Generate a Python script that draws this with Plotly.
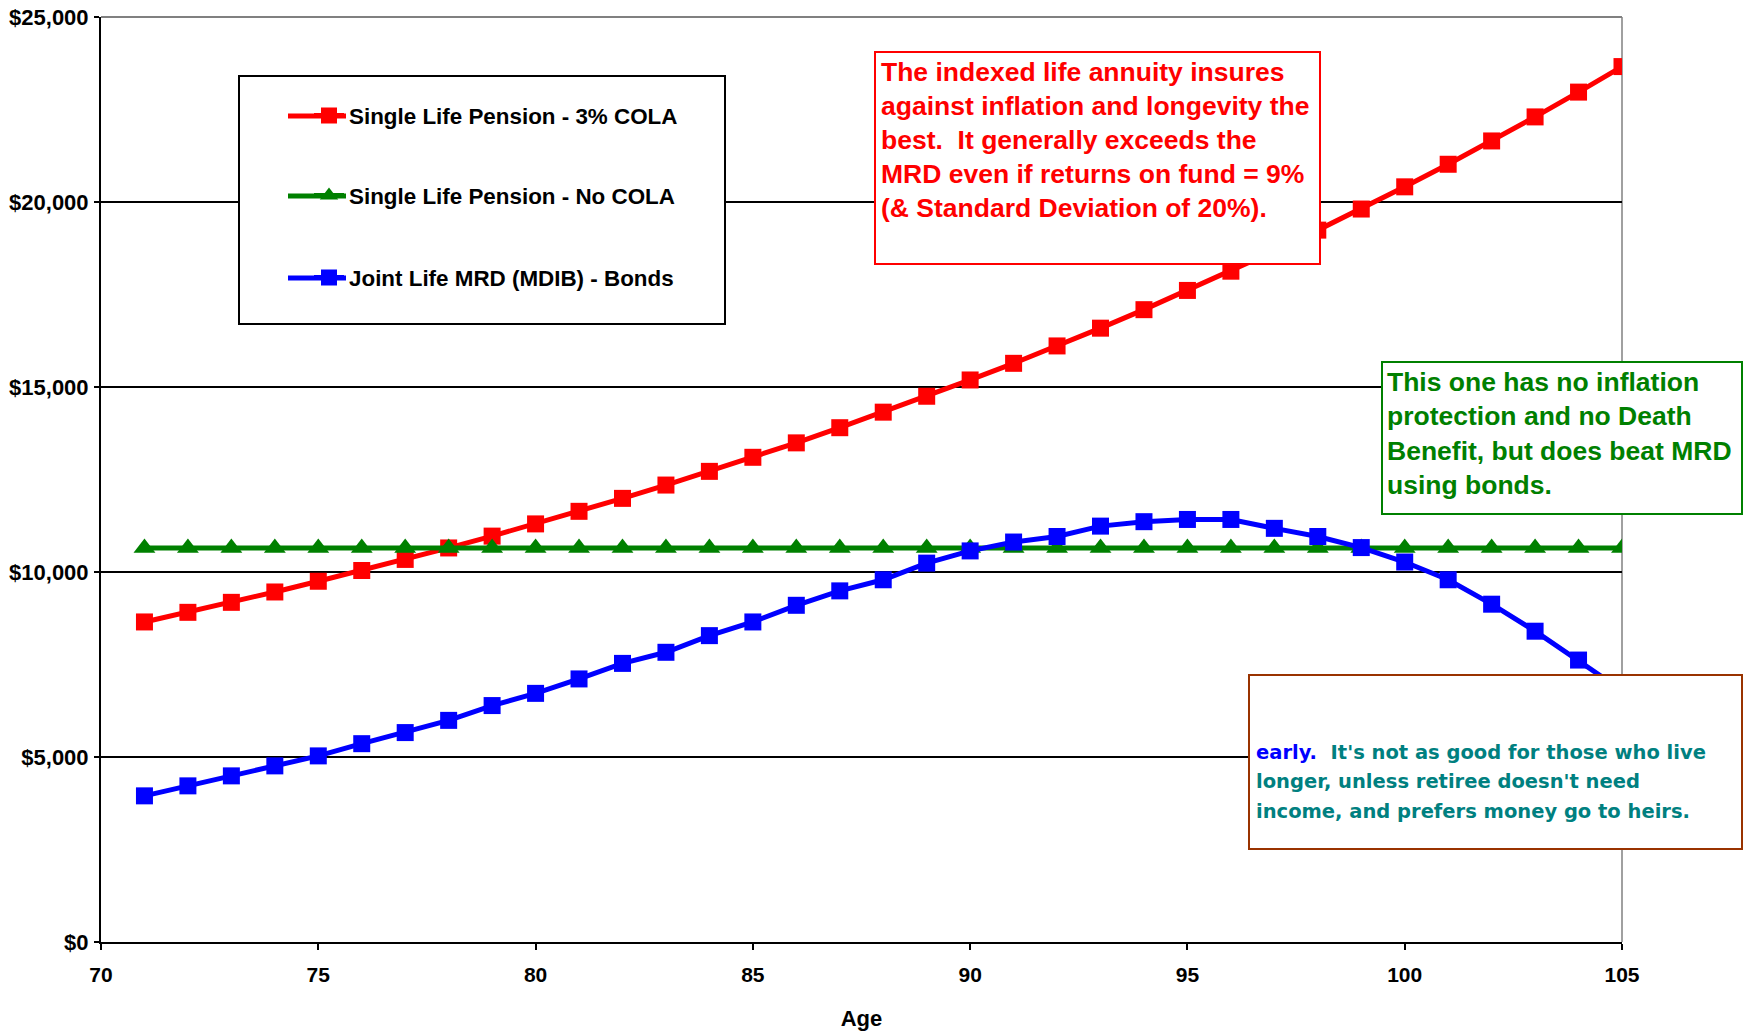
import plotly.graph_objects as go

# ---------------- data ----------------
ages = [71, 72, 73, 74, 75, 76, 77, 78, 79, 80, 81, 82, 83, 84, 85, 86, 87, 88,
        89, 90, 91, 92, 93, 94, 95, 96, 97, 98, 99, 100, 101, 102, 103, 104, 105]

cola_3pct = [8650, 8910, 9180, 9460, 9750, 10040, 10340, 10650, 10970, 11300,
             11640, 11990, 12350, 12720, 13100, 13490, 13900, 14320, 14750, 15190,
             15640, 16110, 16590, 17090, 17610, 18130, 18680, 19240, 19810, 20410,
             21020, 21650, 22300, 22970, 23660]

no_cola = [10650, 10650, 10650, 10650, 10650, 10650, 10650, 10650, 10650, 10650,
           10650, 10650, 10650, 10650, 10650, 10650, 10650, 10650, 10650, 10650,
           10650, 10650, 10650, 10650, 10650, 10650, 10650, 10650, 10650, 10650,
           10650, 10650, 10650, 10650, 10650]

joint_mrd = [3950, 4220, 4490, 4760, 5030, 5360, 5660, 5990, 6390, 6720,
             7110, 7530, 7830, 8280, 8650, 9100, 9490, 9790, 10240, 10570,
             10810, 10960, 11240, 11360, 11420, 11420, 11180, 10960, 10660, 10270,
             9790, 9130, 8400, 7620, 6800]

series_names = ["Single Life Pension - 3% COLA",
                "Single Life Pension - No COLA",
                "Joint Life MRD (MDIB) - Bonds"]

x_ticks = [70, 75, 80, 85, 90, 95, 100, 105]
y_ticks = [0, 5000, 10000, 15000, 20000, 25000]

red_note = ["The indexed life annuity insures",
            "against inflation and longevity the",
            "best.\u00a0 It generally exceeds the",
            "MRD even if returns on fund = 9%",
            "(& Standard Deviation of 20%)."]
green_note = ["This one has no inflation",
              "protection and no Death",
              "Benefit, but does beat MRD",
              "using bonds."]
brown_note = ["<span style='color:#0000FF'>early.</span>\u00a0 It's not as good for those who live",
              "longer, unless retiree doesn't need",
              "income, and prefers money go to heirs."]

# ---------------- layout geometry ----------------
OFF = 0                      # page body margin (removed by post_script)
W, H = 1748, 1034
L, R, T, B = 101, 126, 17, 92
PW, PH = W - L - R, H - T - B


def fx(px):
    """page pixel x -> paper x"""
    return (px - OFF - L) / PW


def fy(py):
    """page pixel y -> paper y"""
    return (H - B - (py - OFF)) / PH


FONT = "Liberation Sans, Arial, sans-serif"

fig = go.Figure()

styles = [
    dict(color="#FF0000", symbol="square", size=17),
    dict(color="#008000", symbol="triangle-up", size=19),
    dict(color="#0000FF", symbol="square", size=17),
]
values = [cola_3pct, no_cola, joint_mrd]
legends = ["legend", "legend2", "legend3"]

for name, vals, st, lg in zip(series_names, values, styles, legends):
    fig.add_trace(go.Scatter(
        x=ages, y=vals, name=name, mode="lines+markers",
        line=dict(color=st["color"], width=5),
        marker=dict(color=st["color"], symbol=st["symbol"], size=st["size"]),
        legend=lg,
    ))

legend_common = dict(
    font=dict(family=FONT, size=22.4, color="black", weight="bold"),
    bgcolor="rgba(0,0,0,0)", borderwidth=0,
    xanchor="left", yanchor="middle", itemsizing="trace",
)
legend_y = [116, 196, 278]
legend_x = 309
fig.update_layout(
    legend=dict(x=fx(legend_x), y=fy(legend_y[0]), **legend_common),
    legend2=dict(x=fx(legend_x), y=fy(legend_y[1]), **legend_common),
    legend3=dict(x=fx(legend_x), y=fy(legend_y[2]), **legend_common),
)

shapes = []
# plot area border (top, right) in gray
shapes.append(dict(type="line", xref="paper", yref="paper", x0=0, x1=1, y0=1, y1=1,
                   line=dict(color="#808080", width=2), layer="above"))
shapes.append(dict(type="line", xref="paper", yref="paper", x0=1, x1=1, y0=0, y1=1,
                   line=dict(color="#808080", width=1.5), layer="below"))
# legend box
shapes.append(dict(type="rect", xref="paper", yref="paper",
                   x0=fx(239), x1=fx(725), y0=fy(324), y1=fy(76),
                   fillcolor="white", line=dict(color="black", width=2), layer="above"))
# longer legend line samples (behind the legend symbols)
for st, ly in zip(styles, legend_y):
    shapes.append(dict(type="line", xref="paper", yref="paper",
                       x0=fx(288), x1=fx(346), y0=fy(ly), y1=fy(ly),
                       line=dict(color=st["color"], width=5), layer="above"))
# red note box
shapes.append(dict(type="rect", xref="paper", yref="paper",
                   x0=fx(875), x1=fx(1320), y0=fy(264), y1=fy(52),
                   fillcolor="white", line=dict(color="#FF0000", width=2), layer="above"))
# green note box
shapes.append(dict(type="rect", xref="paper", yref="paper",
                   x0=fx(1382), x1=fx(1742), y0=fy(514), y1=fy(362),
                   fillcolor="white", line=dict(color="#008000", width=2), layer="above"))
# brown note box
shapes.append(dict(type="rect", xref="paper", yref="paper",
                   x0=fx(1249), x1=fx(1742), y0=fy(849), y1=fy(675),
                   fillcolor="white", line=dict(color="#993300", width=2), layer="above"))

annotations = []
for i, line in enumerate(red_note):
    annotations.append(dict(xref="paper", yref="paper", x=fx(879), y=fy(72 + 34.1 * i),
                            xanchor="left", yanchor="middle", showarrow=False, text=line,
                            font=dict(family=FONT, size=26.5, color="#FF0000", weight="bold")))
for i, line in enumerate(green_note):
    annotations.append(dict(xref="paper", yref="paper", x=fx(1385), y=fy(382 + 34.3 * i),
                            xanchor="left", yanchor="middle", showarrow=False, text=line,
                            font=dict(family=FONT, size=26.5, color="#008000", weight="bold")))
for i, line in enumerate(brown_note):
    annotations.append(dict(xref="paper", yref="paper", x=fx(1254), y=fy(752 + 29.5 * i),
                            xanchor="left", yanchor="middle", showarrow=False, text=line,
                            font=dict(family="DejaVu Sans, Verdana, sans-serif", size=19.5,
                                      color="#008080", weight="bold")))

fig.update_layout(
    width=W, height=H,
    margin=dict(l=L, r=R, t=T, b=B, autoexpand=False),
    paper_bgcolor="white", plot_bgcolor="white",
    showlegend=True,
    shapes=shapes, annotations=annotations,
    xaxis=dict(
        range=[70, 105], tickvals=x_ticks, ticktext=[str(v) for v in x_ticks],
        showgrid=False, zeroline=False,
        showline=True, linecolor="black", linewidth=2,
        ticks="outside", ticklen=6, tickwidth=2, tickcolor="black",
        ticklabelstandoff=7, ticklabeloverflow="allow",
        tickfont=dict(family=FONT, size=21, color="black", weight="bold"),
        title=dict(text="Age", standoff=25,
                   font=dict(family=FONT, size=22, color="black", weight="bold")),
        automargin=False,
    ),
    yaxis=dict(
        range=[0, 25000], tickvals=y_ticks, tickformat="$,.0f",
        showgrid=True, gridcolor="black", gridwidth=1.5, zeroline=False,
        showline=True, linecolor="black", linewidth=2,
        ticks="outside", ticklen=5, tickwidth=2, tickcolor="black",
        ticklabelstandoff=1, ticklabeloverflow="allow",
        tickfont=dict(family=FONT, size=22, color="black", weight="bold"),
        automargin=False,
    ),
)

fig.write_html("out.html",
               config={"displayModeBar": False},
               post_script="document.body.style.margin='0';"
                           "document.body.style.overflow='hidden';")
